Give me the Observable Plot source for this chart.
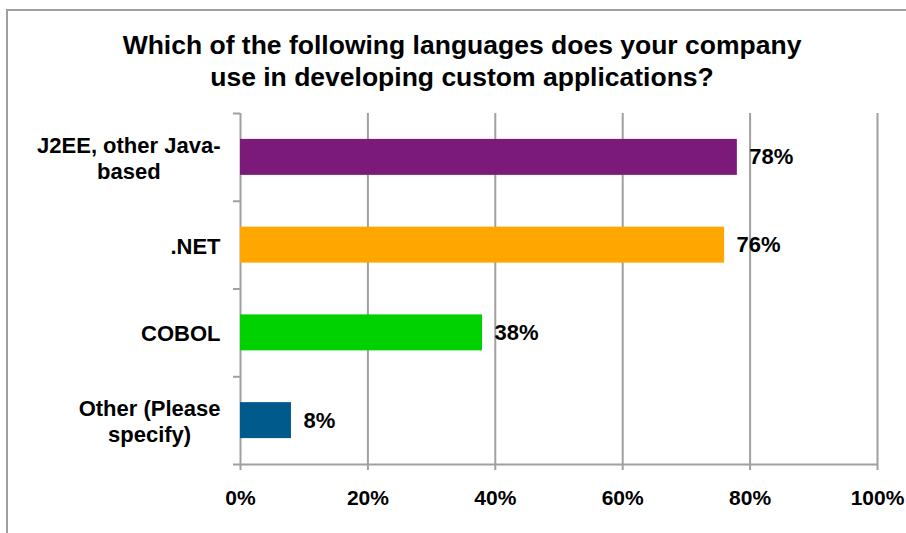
<!DOCTYPE html>
<html><head><meta charset="utf-8">
<script src="https://cdn.jsdelivr.net/npm/d3@7"></script>
<script src="https://cdn.jsdelivr.net/npm/@observablehq/plot@0.6"></script>
<style>
body{margin:0;background:#fff;overflow:hidden;}
#wrap{position:relative;width:906px;height:533px;overflow:hidden;font-family:"Liberation Sans",Arial,sans-serif;}
#border{position:absolute;left:6px;top:9px;width:1000px;height:1000px;border:2px solid #a0a0a0;box-sizing:border-box;}
#title{position:absolute;left:0;top:29px;width:924px;text-align:center;font-weight:bold;font-size:26.5px;line-height:32px;color:#000;}
#chart{position:absolute;left:0;top:0;}
#chart g[aria-label="x-axis tick"], #chart g[aria-label="y-axis tick"]{stroke:#a0a0a0;stroke-width:2px;}
#chart g[aria-label="x-axis"] line, #chart g[aria-label="y-axis"] line{stroke:#a0a0a0;stroke-width:2px;}
#chart g[aria-label="x-axis"] path.domain, #chart g[aria-label="y-axis"] path.domain{display:none;}
</style></head><body>
<div id="wrap"><div id="border"></div><div id="title">Which of the following languages does your company<br>use in developing custom applications?</div><div id="chart"></div></div>
<script>
const categories = ["J2EE, other Java-\nbased", ".NET", "COBOL", "Other (Please\nspecify)"];
const values = [78, 76, 38, 8];
const colors = ["#7b1a78", "#ffa600", "#00d100", "#005a8c"];
const xTicks = [0, 20, 40, 60, 80, 100];

const n = categories.length;
const data = categories.map((c, i) => ({i, category: c, value: values[i], color: colors[i]}));
const gray = "#a0a0a0";
const pad = 0.295; // band padding on each side of a bar, as a share of a category slot

const plot = Plot.plot({
  width: 906, height: 533, marginTop: 113, marginBottom: 69, marginLeft: 240, marginRight: 29,
  style: {fontFamily: "Liberation Sans, Arial, sans-serif", fontSize: "21px", fontWeight: "bold", color: "#000", background: "transparent", overflow: "visible"},
  x: {domain: [0, 100], ticks: xTicks, tickFormat: d => d + "%", tickSize: 6, tickPadding: 20, label: null},
  y: {domain: [n, 0], ticks: d3.range(n + 1), tickFormat: () => "", tickSize: 7, tickPadding: 0, label: null},
  color: {type: "identity"},
  marks: [
    Plot.ruleX(xTicks, {stroke: gray, strokeWidth: 2}),
    Plot.ruleY([n], {stroke: gray, strokeWidth: 2}),
    Plot.rectX(data, {x1: 0, x2: "value", y1: d => d.i + pad, y2: d => d.i + 1 - pad, fill: "color"}),
    Plot.text(data, {frameAnchor: "left", y: d => d.i + 0.5, text: "category", textAnchor: "end", dx: -20, lineHeight: 1.2, fill: "#000", fontSize: 22, fontWeight: "bold"}),
    Plot.text(data, {x: "value", y: d => d.i + 0.5, text: d => d.value + "%", textAnchor: "start", dx: 12, fill: "#000", fontSize: 22, fontWeight: "bold"})
  ]
});
document.getElementById("chart").appendChild(plot);

// center wrapped label lines on the longest line (as in the original)
plot.querySelectorAll("text").forEach(t => {
  const spans = t.querySelectorAll("tspan");
  if (spans.length > 1) {
    const w = t.getBBox().width;
    t.setAttribute("text-anchor", "middle");
    spans.forEach(s => s.setAttribute("x", -w / 2));
  }
});
</script>
</body></html>
